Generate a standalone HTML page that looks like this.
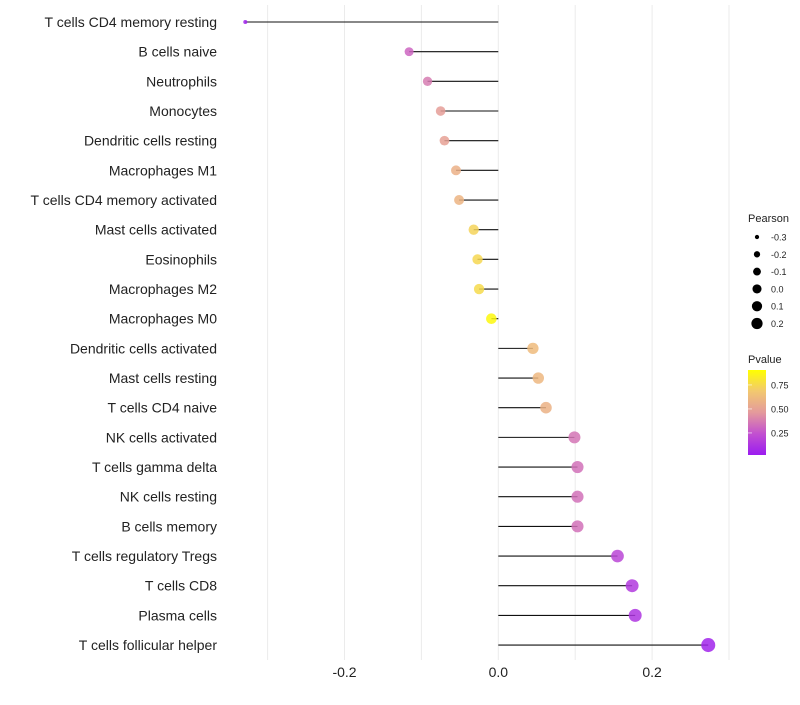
<!DOCTYPE html>
<html><head><meta charset="utf-8"><style>
body{margin:0;background:#fff;font-family:"Liberation Sans",sans-serif;}
</style></head><body>
<svg id="chart" width="800" height="700" xmlns="http://www.w3.org/2000/svg" font-family="Liberation Sans, sans-serif"></svg>
<script>
const categories=["T cells CD4 memory resting","B cells naive","Neutrophils","Monocytes","Dendritic cells resting","Macrophages M1","T cells CD4 memory activated","Mast cells activated","Eosinophils","Macrophages M2","Macrophages M0","Dendritic cells activated","Mast cells resting","T cells CD4 naive","NK cells activated","T cells gamma delta","NK cells resting","B cells memory","T cells regulatory  Tregs ","T cells CD8","Plasma cells","T cells follicular helper"];
const pearson=[-0.329,-0.116,-0.092,-0.075,-0.070,-0.055,-0.051,-0.032,-0.027,-0.025,-0.009,0.045,0.052,0.062,0.099,0.103,0.103,0.103,0.155,0.174,0.178,0.273];
const pvalue=[0.03,0.32,0.40,0.52,0.54,0.62,0.64,0.80,0.82,0.83,0.97,0.68,0.66,0.63,0.38,0.36,0.36,0.36,0.20,0.14,0.12,0.04];
const xTicks=[-0.2,0.0,0.2];
const xGrid=[-0.3,-0.2,-0.1,0,0.1,0.2,0.3];
const sizeLegend=[-0.3,-0.2,-0.1,0.0,0.1,0.2];
const pTicks=[0.25,0.5,0.75];

const svg=document.getElementById('chart');
const NS='http://www.w3.org/2000/svg';
function mk(t,a,p){const e=document.createElementNS(NS,t);for(const k in a)e.setAttribute(k,a[k]);(p||svg).appendChild(e);return e;}
const x=v=>498.3+v*769;
const y=i=>22+i*29.67;
const r=v=>Math.sqrt(Math.max(2,28.75+75*v));
const stops=[[0,[155,28,240]],[0.25,[194,80,208]],[0.5,[228,154,156]],[0.75,[242,200,112]],[1,[255,255,0]]];
function col(p){for(let i=1;i<stops.length;i++){if(p<=stops[i][0]){const a=stops[i-1],b=stops[i],t=(p-a[0])/(b[0]-a[0]);return 'rgb('+a[1].map((c,j)=>Math.round(c+(b[1][j]-c)*t)).join(',')+')';}}return 'rgb(255,255,0)';}

xGrid.forEach(v=>{const g=mk('line',{x1:x(v),x2:x(v),y1:5,y2:660,stroke:'#ebebeb','stroke-width':1});

});
xTicks.forEach(v=>{const t=mk('text',{x:x(v),y:677,'text-anchor':'middle','font-size':14,fill:'#222'});t.textContent=v.toFixed(1);

});
categories.forEach((c,i)=>{
const t=mk('text',{x:217,y:y(i)+5,'text-anchor':'end','font-size':14,fill:'#222'});t.textContent=c;


const l=mk('line',{x1:x(0),x2:x(pearson[i]),y1:y(i),y2:y(i),stroke:'#111','stroke-width':1.1});


const d=mk('circle',{cx:x(pearson[i]),cy:y(i),r:r(pearson[i]),fill:col(pvalue[i]),'fill-opacity':0.85});


});
// legends
const lt=mk('text',{x:748,y:222,'font-size':11,fill:'#222'});lt.textContent='Pearson';


sizeLegend.forEach((v,i)=>{const cy=237+i*17.3;
const c=mk('circle',{cx:757,cy:cy,r:r(v)*0.85,fill:'#000'});


const t=mk('text',{x:771,y:cy+3.5,'font-size':9,fill:'#222'});t.textContent=v.toFixed(1);

});
const pt=mk('text',{x:748,y:363,'font-size':11,fill:'#222'});pt.textContent='Pvalue';


const defs=mk('defs',{});const lg=mk('linearGradient',{id:'pg',x1:0,y1:1,x2:0,y2:0},defs);
stops.forEach(s=>mk('stop',{offset:s[0],'stop-color':'rgb('+s[1].join(',')+')'},lg));
const bar=mk('rect',{x:748,y:370,width:18,height:85,fill:'url(#pg)'});


const py=p=>455-(p-0.02)/0.25*24;
pTicks.forEach(p=>{const t=mk('text',{x:771,y:py(p)+3.5,'font-size':9,fill:'#222'});t.textContent=p.toFixed(2);


const tk=mk('line',{x1:748,x2:752,y1:py(p),y2:py(p),stroke:'#fff','stroke-opacity':0.6});

});
</script>
</body></html>
